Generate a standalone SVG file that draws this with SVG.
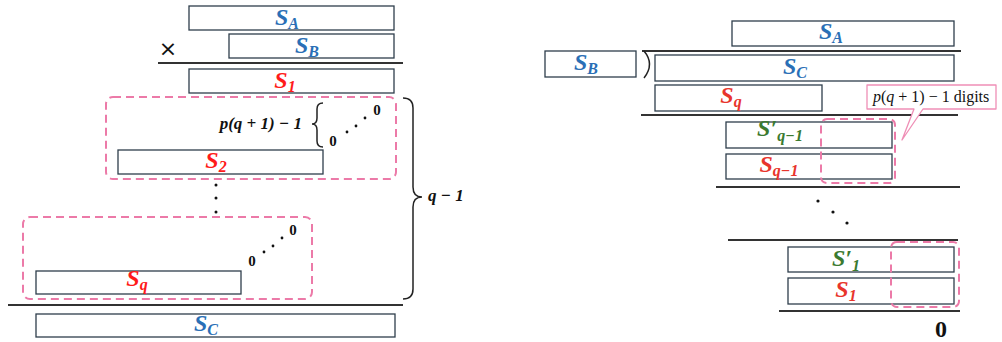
<svg xmlns="http://www.w3.org/2000/svg" width="1002" height="342" viewBox="0 0 1002 342">
<style>
.box{fill:#fff;stroke:#2e3e4c;stroke-width:1.3}
.rule{stroke:#333;stroke-width:2;fill:none}
.dash{fill:none;stroke:#ec7aa8;stroke-width:2;stroke-dasharray:8 5}
.brace{fill:none;stroke:#222;stroke-width:1.5}
.lab{font-family:"Liberation Serif",serif;font-weight:bold;font-style:italic;font-size:24px}
.sub{font-size:16px}
.blue{fill:#2a6fb6}
.red{fill:#ff1a1a}
.red2{fill:#e8352c}
.green{fill:#3b7a30}
.math{font-family:"Liberation Serif",serif;font-weight:bold;font-style:italic;font-size:17px;fill:#111}
.zero{font-family:"Liberation Serif",serif;font-weight:bold;font-size:15px;fill:#111}
.dot{fill:#111}
</style>
<rect width="1002" height="342" fill="#fff"/>
<g id="connectors">
<line class="rule" x1="158" y1="63" x2="403" y2="63"/>
<line class="rule" x1="8" y1="305" x2="403" y2="305"/>
<path class="brace" d="M403,98 Q413,98 413,108 V187 Q413,197 422,197 Q413,197 413,207 V289 Q413,299 403,299"/>
<path class="brace" d="M323,103 Q317,103 317,109 V118 Q317,124 312,124 Q317,124 317,130 V141 Q317,147 323,147"/>
<line class="rule" x1="642" y1="51" x2="961" y2="51"/>
<path class="brace" d="M644,51 Q655,64 644,78"/>
<line class="rule" x1="641" y1="115" x2="958" y2="115"/>
<line class="rule" x1="716" y1="187" x2="960" y2="187"/>
<line class="rule" x1="728" y1="240" x2="958" y2="240"/>
<line class="rule" x1="779" y1="311" x2="960" y2="311"/>
</g>
<g id="left-SA"><rect class="box" x="189" y="6" width="205" height="24"/><text class="lab blue" x="287" y="25" text-anchor="middle">S<tspan class="sub" dy="4">A</tspan></text></g>
<g id="left-times"><text x="168" y="56" text-anchor="middle" font-family="DejaVu Sans,sans-serif" font-size="22" fill="#111">×</text></g>
<g id="left-SB"><rect class="box" x="229" y="34" width="165" height="24"/><text class="lab blue" x="307" y="53" text-anchor="middle">S<tspan class="sub" dy="4">B</tspan></text></g>
<g id="left-S1"><rect class="box" x="189" y="69" width="205" height="24"/><text class="lab red" x="285" y="88" text-anchor="middle">S<tspan class="sub" dy="4">1</tspan></text></g>
<g id="group1">
<rect class="dash" x="106" y="97" width="290" height="82" rx="7"/>
<text class="math" x="302" y="129" text-anchor="end">p(q + 1) − 1</text>
<text class="zero" x="377" y="115" text-anchor="middle">0</text>
<text class="zero" x="333" y="146" text-anchor="middle">0</text>
<circle class="dot" cx="347" cy="132" r="1.4"/><circle class="dot" cx="356" cy="126" r="1.4"/><circle class="dot" cx="365" cy="118" r="1.4"/>
</g>
<g id="left-S2"><rect class="box" x="118" y="150" width="205" height="24"/><text class="lab red" x="216" y="168" text-anchor="middle">S<tspan class="sub" dy="4">2</tspan></text></g>
<g id="vdots"><circle class="dot" cx="216" cy="185" r="1.5"/><circle class="dot" cx="216" cy="198" r="1.5"/><circle class="dot" cx="216" cy="212" r="1.5"/></g>
<g id="group2">
<rect class="dash" x="23" y="217" width="289" height="82" rx="7"/>
<text class="zero" x="293" y="235" text-anchor="middle">0</text>
<text class="zero" x="252" y="266" text-anchor="middle">0</text>
<circle class="dot" cx="264" cy="252" r="1.4"/><circle class="dot" cx="273" cy="246" r="1.4"/><circle class="dot" cx="282" cy="238" r="1.4"/>
</g>
<g id="left-Sq"><rect class="box" x="36" y="271" width="205" height="23"/><text class="lab red" x="137" y="286" text-anchor="middle">S<tspan class="sub" dy="4">q</tspan></text></g>
<g id="q-label"><text class="math" x="428" y="201">q − 1</text></g>
<g id="left-SC"><rect class="box" x="36" y="314" width="359" height="23"/><text class="lab blue" x="206" y="331" text-anchor="middle">S<tspan class="sub" dy="4">C</tspan></text></g>
<g id="right-SA"><rect class="box" x="732" y="21" width="222" height="25"/><text class="lab blue" x="831" y="39" text-anchor="middle">S<tspan class="sub" dy="4">A</tspan></text></g>
<g id="right-SB"><rect class="box" x="545" y="51" width="91" height="26"/><text class="lab blue" x="586" y="70" text-anchor="middle">S<tspan class="sub" dy="4">B</tspan></text></g>
<g id="right-SC"><rect class="box" x="655" y="55" width="299" height="26"/><text class="lab blue" x="795" y="74" text-anchor="middle">S<tspan class="sub" dy="4">C</tspan></text></g>
<g id="right-Sq"><rect class="box" x="655" y="85" width="167" height="26"/><text class="lab red2" x="731" y="103" text-anchor="middle">S<tspan class="sub" dy="4">q</tspan></text></g>
<g id="callout">
<path d="M867,85 H996 V109 H923 L902,140 L914,109 H867 Z" fill="#fff" stroke="#ef8fb6" stroke-width="1.3" stroke-linejoin="round"/>
<text x="873" y="102" font-family="Liberation Serif,serif" font-size="16" fill="#111"><tspan font-style="italic">p</tspan>(<tspan font-style="italic">q</tspan> + 1) − 1 digits</text>
</g>
<g id="right-Sq1p"><rect class="box" x="726" y="122" width="166" height="26"/><text class="lab green" x="780" y="136" text-anchor="middle">S′<tspan class="sub" dy="5">q−1</tspan></text></g>
<g id="right-Sq1"><rect class="box" x="726" y="154" width="166" height="25"/><text class="lab red2" x="779" y="172" text-anchor="middle">S<tspan class="sub" dy="4">q−1</tspan></text></g>
<g id="dash-top"><rect class="dash" x="821" y="119" width="74" height="64" rx="6"/></g>
<g id="ddots"><circle class="dot" cx="818" cy="201" r="1.6"/><circle class="dot" cx="833" cy="212" r="1.6"/><circle class="dot" cx="847" cy="223" r="1.6"/></g>
<g id="right-S1p"><rect class="box" x="788" y="247" width="166" height="25"/><text class="lab green" x="846" y="266" text-anchor="middle">S′<tspan class="sub" dy="5">1</tspan></text></g>
<g id="right-S1"><rect class="box" x="788" y="278" width="166" height="26"/><text class="lab red2" x="846" y="297" text-anchor="middle">S<tspan class="sub" dy="4">1</tspan></text></g>
<g id="dash-bottom"><rect class="dash" x="891" y="242" width="68" height="65" rx="6"/></g>
<g id="remainder"><text x="941" y="337" text-anchor="middle" font-family="Liberation Serif,serif" font-weight="bold" font-size="24" fill="#111">0</text></g>
</svg>
